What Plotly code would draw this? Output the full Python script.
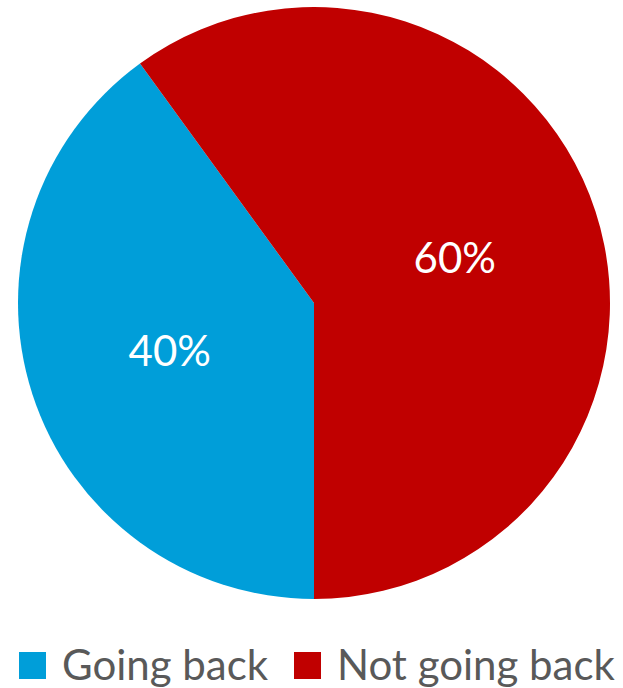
import plotly.graph_objects as go

labels = ["Going back", "Not going back"]
values = [40, 60]
colors = ["#009ED9", "#C00000"]

W, H = 623, 688
FONT = "Lato"

fig = go.Figure()
fig.add_trace(go.Pie(
    labels=labels,
    values=values,
    sort=False,
    direction="clockwise",
    rotation=180,
    marker=dict(colors=colors, line=dict(width=0)),
    textinfo="percent",
    textposition="inside",
    insidetextorientation="horizontal",
    textfont=dict(family=FONT, size=42, color="white"),
    domain=dict(x=[18 / W, 610 / W], y=[1 - 599 / H, 1 - 7 / H]),
    showlegend=False,
    hoverinfo="label+percent",
))

# custom legend (large square swatches like the original)
sq_x = [19, 294]
txt_x = [60, 335]
sq_top, sq_bot = 652, 679
shapes = []
annotations = []
for lab, col, sx, tx in zip(labels, colors, sq_x, txt_x):
    shapes.append(dict(type="rect", xref="paper", yref="paper",
                       x0=sx / W, x1=(sx + 27) / W,
                       y0=1 - sq_bot / H, y1=1 - sq_top / H,
                       fillcolor=col, line=dict(width=0)))
    annotations.append(dict(text=lab, xref="paper", yref="paper",
                            x=tx / W, y=1 - 664 / H, xanchor="left", yanchor="middle",
                            showarrow=False,
                            font=dict(family=FONT, size=42, color="#595959")))

fig.update_layout(
    width=W, height=H,
    margin=dict(l=0, r=0, t=0, b=0),
    paper_bgcolor="white",
    plot_bgcolor="white",
    shapes=shapes,
    annotations=annotations,
)

fig.write_html("out.html",
               config={"displayModeBar": False},
               post_script="document.body.style.margin='0';document.body.style.overflow='hidden';")
